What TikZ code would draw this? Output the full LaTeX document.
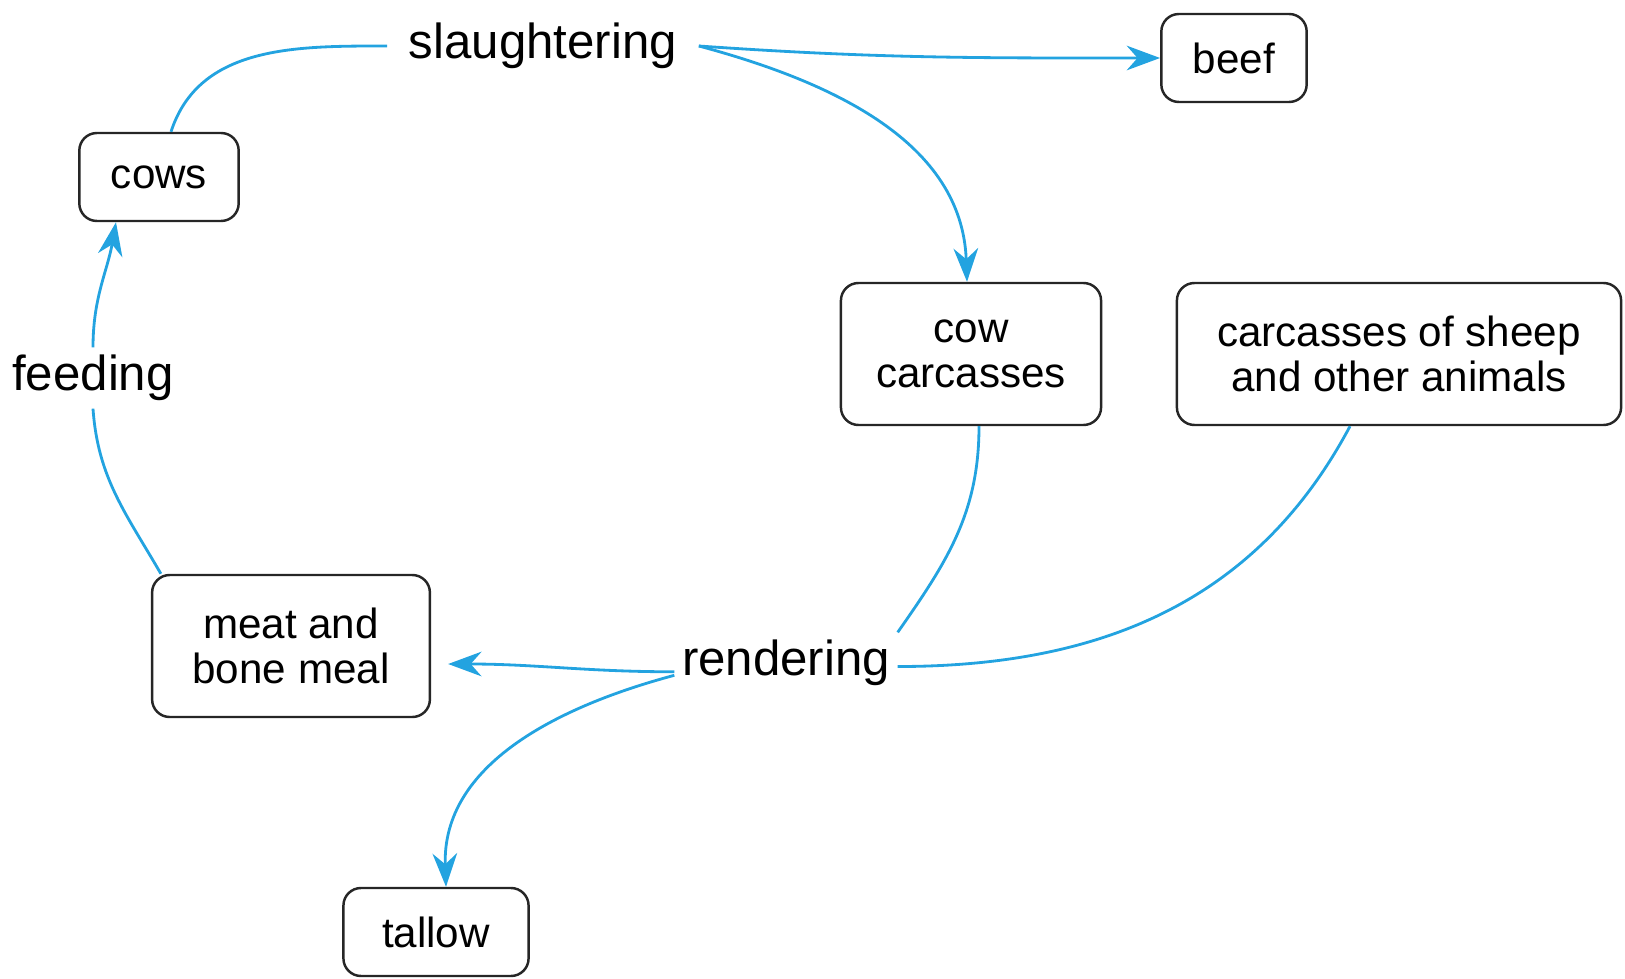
\documentclass[tikz,border=0pt]{standalone}
\usepackage{fontspec}
\setmainfont{Liberation Sans}
\usetikzlibrary{arrows.meta}
\definecolor{flowblue}{RGB}{35,163,224}

\begin{document}
\begin{tikzpicture}[
    box/.style={draw=black!85, line width=0.7pt, rounded corners=5pt, align=center, inner xsep=9pt, minimum height=0.88cm, font=\fontsize{12}{13}\selectfont},
    twoline/.style={box, inner xsep=11.5pt, minimum height=1.42cm},
    act/.style={inner sep=2pt, font=\fontsize{14}{16}\selectfont},
    flow/.style={flowblue, line width=0.8pt},
    flowto/.style={flow, -{Stealth[length=9.5pt,width=7pt]}}]
    \useasboundingbox (0,0) rectangle (16.25,-9.79);

    \node[box] (cows) at (1.59,-1.77) {cows};
    \node[box] (beef) at (12.34,-0.58) {beef};
    \node[twoline, inner xsep=10pt] (cowcarc) at (9.71,-3.54) {cow\\carcasses};
    \node[twoline] (sheep) at (13.99,-3.54) {carcasses of sheep\\and other animals};
    \node[twoline] (meal) at (2.91,-6.46) {meat and\\bone meal};
    \node[box, inner xsep=11pt] (tallow) at (4.36,-9.32) {tallow};

    \node[act, inner xsep=6pt] (slaughter) at (5.43,-0.46) {slaughtering};
    \node[act] (feed) at (0.93,-3.78) {feeding};
    \node[act] (render) at (7.86,-6.63) {rendering};

    \draw[flow] ([xshift=0.12cm]cows.north) to[out=72,in=180] (slaughter.west);
    \draw[flowto] (slaughter.east) to[out=-4,in=180] (beef.west);
    \draw[flowto] (slaughter.east) to[out=-15,in=92] ([xshift=-0.04cm]cowcarc.north);

    \draw[flow] ([xshift=0.08cm]cowcarc.south) to[out=-90,in=55] (render.north east);
    \draw[flow] ([xshift=-0.49cm]sheep.south) to[out=-118,in=0] ([yshift=-1pt]render.east);
    \draw[flowto] ([yshift=-2.5pt]render.west) to[out=180,in=0] ([xshift=0.17cm,yshift=-0.18cm]meal.east);
    \draw[flowto] ([yshift=-3.5pt]render.west) to[out=195,in=92] ([xshift=0.1cm]tallow.north);

    \draw[flow] ([xshift=0.1cm]meal.north west) to[out=120,in=-86] (feed.south);
    \draw[flowto] (feed.north) to[out=90,in=-100] ([xshift=-0.43cm]cows.south);

\end{tikzpicture}
\end{document}
